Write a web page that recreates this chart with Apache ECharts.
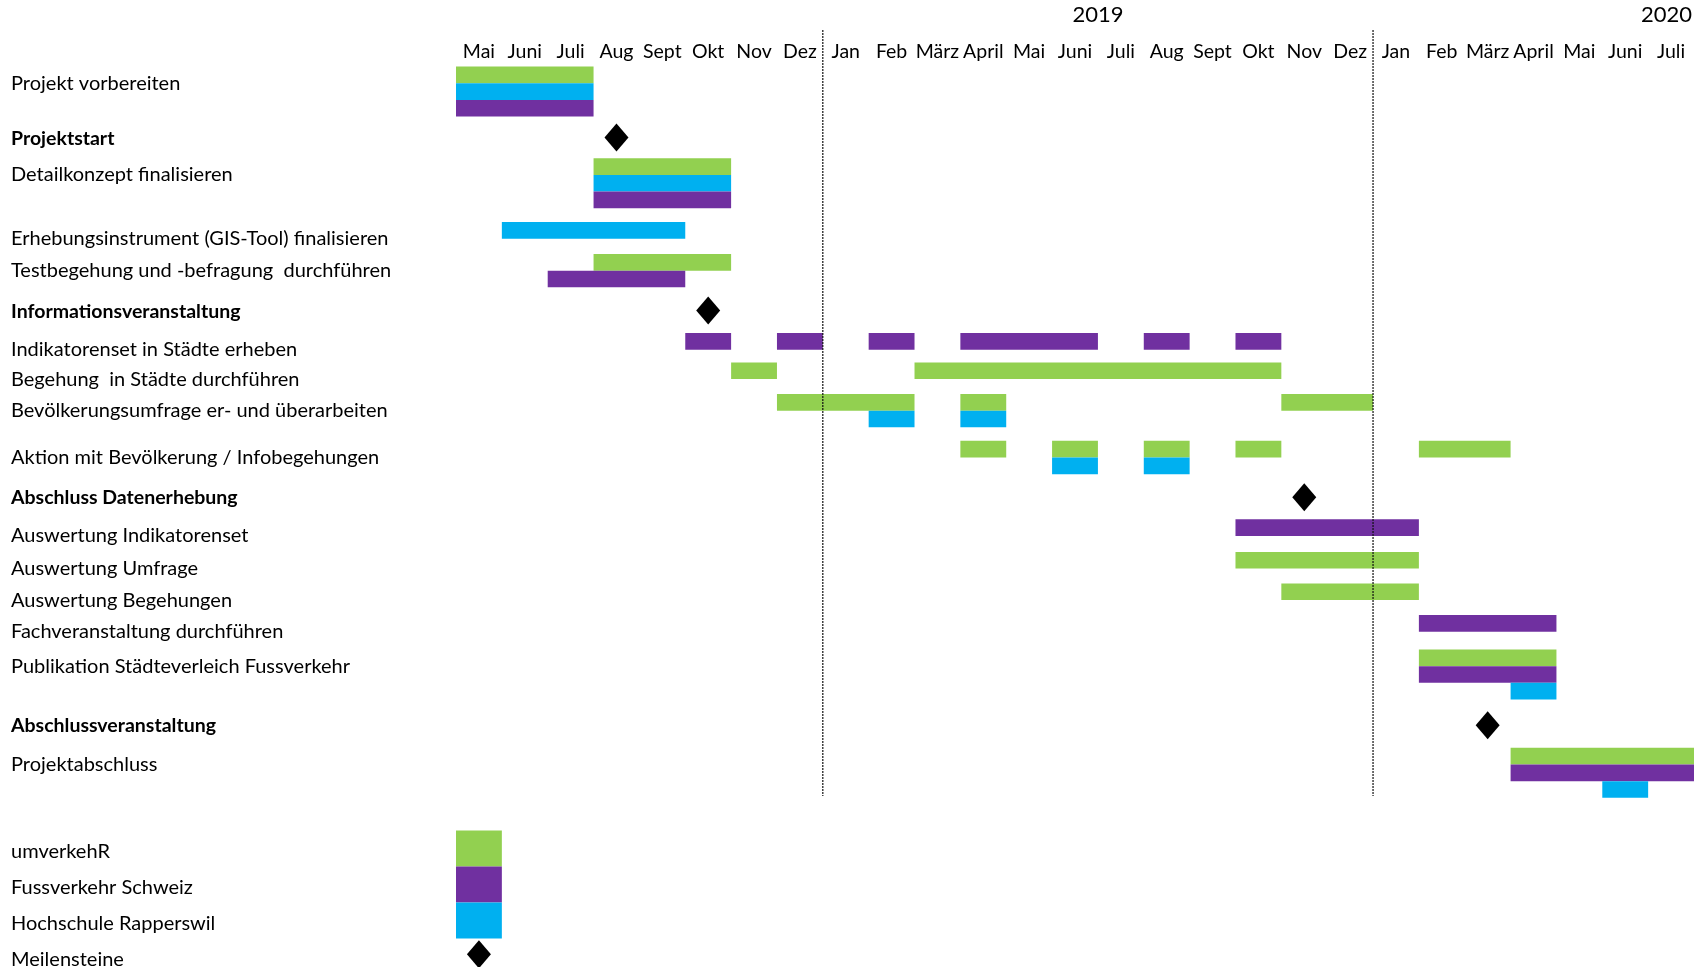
<!DOCTYPE html>
<html lang="de">
<head>
<meta charset="UTF-8">
<title>Projektplan</title>
<script src="https://cdn.jsdelivr.net/npm/echarts@6.0.0/dist/echarts.min.js"></script>
<style>
    html, body { margin: 0; padding: 0; background: #fff; }
    #chart { width: 1706px; height: 967px; }
</style>
</head>
<body>
<div id="chart"></div>
<script>
    // months from Mai 2018 (0) to Juli 2020 (26)
    var months = ['Mai', 'Juni', 'Juli', 'Aug', 'Sept', 'Okt', 'Nov', 'Dez',
        'Jan', 'Feb', 'März', 'April', 'Mai', 'Juni', 'Juli', 'Aug', 'Sept', 'Okt', 'Nov', 'Dez',
        'Jan', 'Feb', 'März', 'April', 'Mai', 'Juni', 'Juli'];
    var years = ['2019', '2020'];
    var yearAt = [14, 26.4];
    var yearStarts = [8, 20];

    var parties = ['umverkehR', 'Fussverkehr Schweiz', 'Hochschule Rapperswil'];
    var partyColors = ['#92D050', '#7030A0', '#00B0F0'];

    var tasks = ['Projekt vorbereiten', 'Projektstart', 'Detailkonzept finalisieren',
        'Erhebungsinstrument (GIS-Tool) finalisieren', 'Testbegehung und -befragung  durchführen',
        'Informationsveranstaltung', 'Indikatorenset in Städte erheben', 'Begehung  in Städte durchführen',
        'Bevölkerungsumfrage er- und überarbeiten', 'Aktion mit Bevölkerung / Infobegehungen',
        'Abschluss Datenerhebung', 'Auswertung Indikatorenset', 'Auswertung Umfrage',
        'Auswertung Begehungen', 'Fachveranstaltung durchführen', 'Publikation Städteverleich Fussverkehr',
        'Abschlussveranstaltung', 'Projektabschluss'];
    // row of each task, counted in bar heights from the top
    var taskRow = [4, 7.3, 9.5, 13.33, 15.25, 17.7, 20, 21.76, 23.66, 26.47,
        28.9, 31.18, 33.14, 35.03, 36.93, 39, 42.6, 44.9];

    // milestones: [task, month]
    var milestones = [[1, 3.5], [5, 5.5], [10, 18.5], [16, 22.5]];

    // bars: [task, party, sub row, start month, end month]
    var bars = [
        [0, 0, 0, 0, 3], [0, 2, 1, 0, 3], [0, 1, 2, 0, 3],
        [2, 0, 0, 3, 6], [2, 2, 1, 3, 6], [2, 1, 2, 3, 6],
        [3, 2, 0, 1, 5],
        [4, 0, 0, 3, 6], [4, 1, 1, 2, 5],
        [6, 1, 0, 5, 6], [6, 1, 0, 7, 8], [6, 1, 0, 9, 10], [6, 1, 0, 11, 14], [6, 1, 0, 15, 16], [6, 1, 0, 17, 18],
        [7, 0, 0, 6, 7], [7, 0, 0, 10, 18],
        [8, 0, 0, 7, 10], [8, 0, 0, 11, 12], [8, 0, 0, 18, 20], [8, 2, 1, 9, 10], [8, 2, 1, 11, 12],
        [9, 0, 0, 11, 12], [9, 0, 0, 13, 14], [9, 0, 0, 15, 16], [9, 0, 0, 17, 18], [9, 0, 0, 21, 23],
        [9, 2, 1, 13, 14], [9, 2, 1, 15, 16],
        [11, 1, 0, 17, 21],
        [12, 0, 0, 17, 21],
        [13, 0, 0, 18, 21],
        [14, 1, 0, 21, 24],
        [15, 0, 0, 21, 24], [15, 1, 1, 21, 24], [15, 2, 2, 23, 24],
        [17, 0, 0, 23, 27], [17, 1, 1, 23, 27], [17, 2, 2, 25, 26]
    ];

    // layout (in bar heights)
    var yearRow = 0.9, monthRow = 3.12;
    var lineTop = 1.8, lineBottom = 47.8;
    var legendTop = 49.87, legendStep = 2.16, legendMilestone = 57.3;

    var font = 'Lato, "Open Sans", sans-serif';

    var barData = bars.map(function (b) {
        return [b[3], b[4], taskRow[b[0]] + b[2], 1, b[1]];
    });
    parties.forEach(function (p, i) {
        barData.push([0, 1, legendTop + i * legendStep, legendStep, i]);
    });

    var diamondData = milestones.map(function (m) { return [m[1], taskRow[m[0]] + 0.95]; });
    diamondData.push([0.5, legendMilestone]);

    var labelData = tasks.map(function (t, i) {
        var isMs = milestones.some(function (m) { return m[0] === i; });
        return [0, taskRow[i] + 1, t, isMs ? 1 : 0];
    });
    parties.forEach(function (p, i) {
        labelData.push([0, legendTop + (i + 0.5) * legendStep + 0.2, p, 0]);
    });
    labelData.push([0, legendMilestone + 0.3, 'Meilensteine', 0]);

    var chart = echarts.init(document.getElementById('chart'));

    chart.setOption({
        animation: false,
        grid: { left: 456, right: 12, top: 0, bottom: 1 },
        xAxis: { type: 'value', min: 0, max: 27, show: false },
        yAxis: { type: 'value', min: 0, max: 58, inverse: true, show: false },
        series: [
            {
                type: 'custom',
                clip: false,
                data: barData,
                renderItem: function (params, api) {
                    var p0 = api.coord([api.value(0), api.value(2)]);
                    var p1 = api.coord([api.value(1), api.value(2) + api.value(3)]);
                    return {
                        type: 'rect',
                        shape: { x: p0[0], y: p0[1], width: p1[0] - p0[0], height: p1[1] - p0[1] },
                        style: { fill: partyColors[api.value(4)] }
                    };
                }
            },
            {
                type: 'custom',
                clip: false,
                data: yearStarts.map(function (m) { return [m]; }),
                renderItem: function (params, api) {
                    var a = api.coord([api.value(0), lineTop]);
                    var b = api.coord([api.value(0), lineBottom]);
                    return {
                        type: 'line',
                        shape: { x1: a[0], y1: a[1], x2: b[0], y2: b[1] },
                        style: { stroke: '#111', lineWidth: 1.2, lineDash: [2, 1] }
                    };
                }
            },
            {
                type: 'custom',
                clip: false,
                data: diamondData,
                renderItem: function (params, api) {
                    var c = api.coord([api.value(0), api.value(1)]);
                    var w = 12, h = 14;
                    return {
                        type: 'polygon',
                        shape: { points: [[c[0], c[1] - h], [c[0] + w, c[1]], [c[0], c[1] + h], [c[0] - w, c[1]]] },
                        style: { fill: '#000' }
                    };
                }
            },
            {
                type: 'custom',
                clip: false,
                data: labelData,
                renderItem: function (params, api) {
                    var c = api.coord([0, api.value(1)]);
                    var d = labelData[params.dataIndex];
                    return {
                        type: 'text',
                        x: 11, y: c[1],
                        style: {
                            text: d[2], fill: '#000', fontFamily: font,
                            fontSize: d[3] ? 19.5 : 20,
                            fontWeight: d[3] ? 'bold' : 'normal',
                            align: 'left', verticalAlign: 'middle'
                        }
                    };
                }
            },
            {
                type: 'custom',
                clip: false,
                data: months.map(function (m, i) { return [i + 0.5, m]; }),
                renderItem: function (params, api) {
                    var c = api.coord([api.value(0), monthRow]);
                    return {
                        type: 'text', x: c[0], y: c[1],
                        style: {
                            text: months[params.dataIndex], fill: '#000', fontFamily: font, fontSize: 19.5,
                            align: 'center', verticalAlign: 'middle'
                        }
                    };
                }
            },
            {
                type: 'custom',
                clip: false,
                data: yearAt.map(function (x, i) { return [x, years[i]]; }),
                renderItem: function (params, api) {
                    var c = api.coord([api.value(0), yearRow]);
                    return {
                        type: 'text', x: c[0], y: c[1],
                        style: {
                            text: years[params.dataIndex], fill: '#000', fontFamily: font, fontSize: 22,
                            align: 'center', verticalAlign: 'middle'
                        }
                    };
                }
            }
        ]
    });
</script>
</body>
</html>
